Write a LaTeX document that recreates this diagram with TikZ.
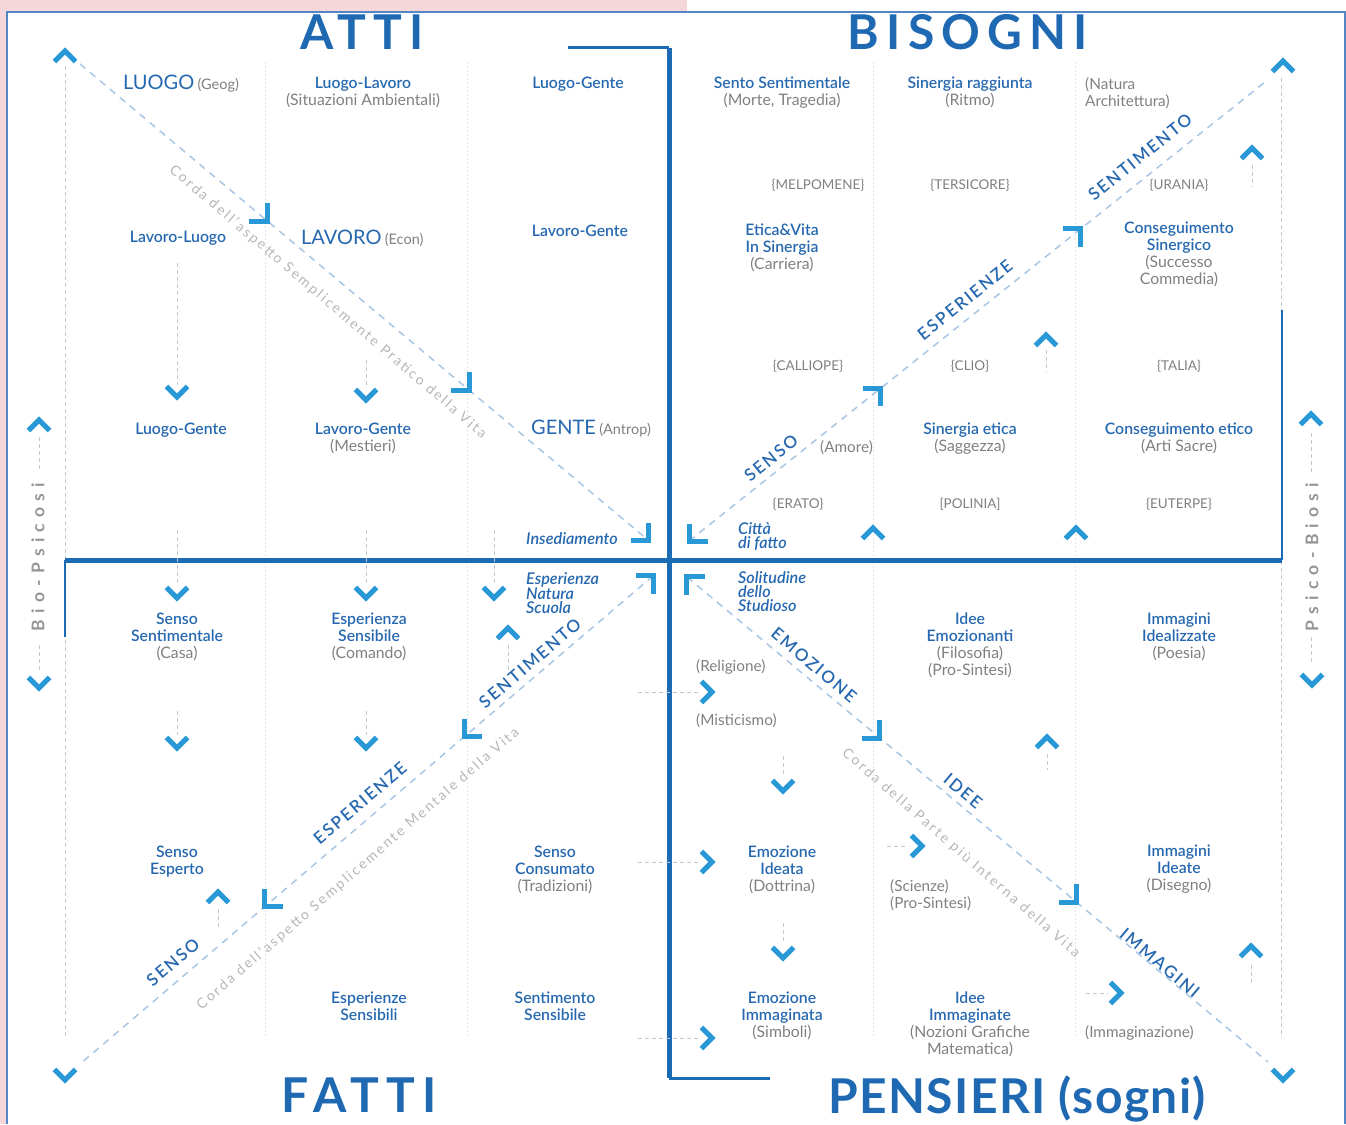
\documentclass[tikz,border=0pt]{standalone}
\usepackage{fontspec}
\setmainfont{Lato}
\newfontfamily\semifont{Lato Semibold}[ItalicFont={Lato Semibold Italic}]
\usetikzlibrary{calc}
\definecolor{titleblue}{RGB}{30,105,178}
\definecolor{lblblue}{RGB}{38,104,176}
\definecolor{chevblue}{RGB}{40,153,214}
\definecolor{crossblue}{RGB}{28,107,181}
\definecolor{subgray}{RGB}{128,128,128}
\definecolor{cordagray}{RGB}{182,182,182}
\definecolor{diagblue}{RGB}{168,198,228}
\definecolor{stubgray}{RGB}{190,200,212}
\definecolor{sepgray}{RGB}{228,228,228}
\definecolor{pinkbg}{RGB}{245,214,217}
\definecolor{frameblue}{RGB}{84,133,196}
\definecolor{sidegray}{RGB}{150,150,150}
\def\chev(#1)[#2:#3]{\draw[chevron] ($(#1)+(#2+135:#3)$) -- (#1) -- ($(#1)+(#2-135:#3)$);}
\newcommand\gr[1]{{\normalfont\color{subgray}#1}}

\begin{document}
\begin{tikzpicture}[x=1pt, y=-1pt,
	chevron/.style={draw=chevblue, line width=5pt, line join=miter, line cap=butt},
	crossline/.style={draw=crossblue, line width=5pt},
	thinline/.style={draw=crossblue, line width=2pt},
	diag/.style={draw=diagblue, line width=1.5pt, dash pattern=on 7pt off 6pt},
	stub/.style={draw=stubgray, line width=0.8pt, dash pattern=on 4pt off 3pt},
	colsep/.style={draw=sepgray, line width=0.8pt, dash pattern=on 2pt off 2pt},
	lbl/.style={anchor=north, align=center, inner sep=0pt, text=lblblue, font=\semifont\fontsize{15.8}{16.8}\selectfont},
	lblit/.style={anchor=north west, align=left, inner sep=0pt, text=lblblue, font=\semifont\itshape\fontsize{16.2}{14.4}\selectfont},
	big/.style={anchor=base west, inner sep=0pt, text=lblblue, font=\fontsize{20}{20}\selectfont},
	muse/.style={anchor=base, inner sep=0pt, text=subgray, font=\fontsize{13.5}{14}\selectfont},
	gtxt/.style={anchor=north west, align=left, inner sep=0pt, text=subgray, font=\fontsize{15.3}{17.5}\selectfont},
	heading/.style={anchor=base, inner sep=0pt, text=titleblue, font=\fontsize{48}{48}\selectfont\bfseries\addfontfeatures{LetterSpace=#1}},
	dlbl/.style={inner sep=0pt, text=lblblue, font=\semifont\fontsize{17}{17}\selectfont\addfontfeatures{LetterSpace=12}},
	corda/.style={inner sep=0pt, text=cordagray, font=\fontsize{14}{14}\selectfont\addfontfeatures{LetterSpace=16}},
	side/.style={inner sep=0pt, rotate=90, text=sidegray, font=\fontsize{17.5}{17.5}\selectfont\bfseries\addfontfeatures{LetterSpace=36}}]
		%%%%% START %%%%%
		\useasboundingbox (0,0) rectangle (1346,1124);
		\fill[pinkbg] (0,0) rectangle (687,11);
		\fill[pinkbg] (0,0) rectangle (6,1124);
		\draw[frameblue, line width=1.5pt] (7,1124) -- (7,12) -- (1345,12) -- (1345,1124);
		
		\draw[colsep] (265,62) -- (265,1038);
		\draw[colsep] (467,62) -- (467,1038);
		\draw[colsep] (873,62) -- (873,1038);
		\draw[colsep] (1075,62) -- (1075,1038);
		\draw[stub] (65,66) -- (65,1038);
		\draw[stub] (1281,78) -- (1281,1038);
		
		\coordinate (tl0) at (80,64);
		\coordinate (tl1) at (648,540);
		\coordinate (tr0) at (689,541);
		\coordinate (tr1) at (1265,82);
		\coordinate (bl0) at (653,576);
		\coordinate (bl1) at (80,1064);
		\coordinate (br0) at (687,577);
		\coordinate (br1) at (1268,1062);
		\draw[diag] (tl0) -- (tl1);
		\draw[diag] (tr0) -- (tr1);
		\draw[diag] (bl0) -- (bl1);
		\draw[diag] (br0) -- (br1);
		
		\draw[crossblue, line width=3pt] (568,48) -- (669,48);
		\draw[crossblue, line width=3pt] (669,1078) -- (770,1078);
		\draw[crossline] (669,48) -- (669,1078);
		\draw[crossline] (65,560) -- (1282,560);
		\draw[thinline] (65,560) -- (65,637);
		\draw[thinline] (1282,560) -- (1282,310);
		
		\draw[stub] (177,263) -- (177,385);
		\draw[stub] (366,360) -- (366,388);
		\draw[stub] (177,530) -- (177,585);
		\draw[stub] (366,530) -- (366,585);
		\draw[stub] (494,530) -- (494,585);
		\draw[stub] (508,645) -- (508,672);
		\draw[stub] (177,711) -- (177,735);
		\draw[stub] (366,711) -- (366,735);
		\draw[stub] (218,909) -- (218,927);
		\draw[stub] (1252,165) -- (1252,187);
		\draw[stub] (1046,350) -- (1046,372);
		\draw[stub] (638,692) -- (700,692);
		\draw[stub] (638,862) -- (700,862);
		\draw[stub] (638,1038) -- (700,1038);
		\draw[stub] (887,846) -- (908,846);
		\draw[stub] (1086,993) -- (1108,993);
		\draw[stub] (783,756) -- (783,775);
		\draw[stub] (783,923) -- (783,942);
		\draw[stub] (1047,754) -- (1047,770);
		\draw[stub] (1251,965) -- (1251,983);
		\draw[stub] (39,437) -- (39,470);
		\draw[stub] (39,645) -- (39,672);
		\draw[stub] (1311,433) -- (1311,473);
		\draw[stub] (1311,637) -- (1311,665);
		
		\chev(648.5,540.5)[45:18]
		\chev(689.5,541.5)[135:18]
		\chev(653.5,575.5)[-45:18]
		\chev(686.5,576.5)[225:18]
		\chev($(tl0)!0.33!(tl1)$)[45:18]
		\chev($(tl0)!0.685!(tl1)$)[45:18]
		\chev($(tr0)!0.333!(tr1)$)[-45:18]
		\chev($(tr0)!0.68!(tr1)$)[-45:18]
		\chev($(bl0)!0.329!(bl1)$)[135:18]
		\chev($(bl0)!0.678!(bl1)$)[135:18]
		\chev($(br0)!0.332!(br1)$)[45:18]
		\chev($(br0)!0.671!(br1)$)[45:18]
		
		\chev(65,51)[270:15]
		\chev(1283,61)[270:15]
		\chev(65,1080)[90:15]
		\chev(1283,1080)[90:15]
		\chev(39,420)[270:15]
		\chev(39,688)[90:15]
		\chev(1311,414)[270:15]
		\chev(1312,685)[90:15]
		\chev(177,397)[90:15]
		\chev(366,400)[90:15]
		\chev(177,598)[90:15]
		\chev(366,598)[90:15]
		\chev(494,598)[90:15]
		\chev(508,628)[270:15]
		\chev(177,748)[90:15]
		\chev(366,748)[90:15]
		\chev(218,892)[270:15]
		\chev(1252,148)[270:15]
		\chev(1046,335)[270:15]
		\chev(873,528)[270:15]
		\chev(1076,528)[270:15]
		\chev(712,692)[0:15]
		\chev(712,862)[0:15]
		\chev(712,1038)[0:15]
		\chev(922,846)[0:15]
		\chev(1121,993)[0:15]
		\chev(783,791)[90:15]
		\chev(783,958)[90:15]
		\chev(1047,737)[270:15]
		\chev(1251,946)[270:15]
		
		\node[heading=15] (atti) at (362,50) {ATTI};
		\node[heading=15] (bisogni) at (968,49) {BISOGNI};
		\node[heading=15] (fatti) at (359,1112) {FATTI};
		\node[heading=3] (pensieri) at (1017,1113) {PENSIERI (sogni)};
		\node[side] (biopsicosi) at (38,557) {Bio-Psicosi};
		\node[side] (psicobiosi) at (1312,557) {Psico-Biosi};
		
		\node[big] (luogo) at (123,89) {LUOGO\,\gr{\fontsize{14.5}{14.5}\selectfont(Geog)}};
		\node[lbl] (luogolavoro) at (363,77) {Luogo-Lavoro\\\gr{(Situazioni Ambientali)}};
		\node[lbl] (luogogenteA) at (578,77) {Luogo-Gente};
		\node[lbl] (lavoroluogo) at (178,231) {Lavoro-Luogo};
		\node[big] (lavoro) at (301,244) {LAVORO\,\gr{\fontsize{14.5}{14.5}\selectfont(Econ)}};
		\node[lbl] (lavorogenteA) at (580,225) {Lavoro-Gente};
		\node[lbl] (luogogenteB) at (181,423) {Luogo-Gente};
		\node[lbl] (lavorogenteB) at (363,423) {Lavoro-Gente\\\gr{(Mestieri)}};
		\node[big] (gente) at (531,434) {GENTE\,\gr{\fontsize{14.5}{14.5}\selectfont(Antrop)}};
		\node[lblit] (insediamento) at (526,532) {Insediamento};
		
		\node[lblit] (espnatura) at (526,572) {Esperienza\\Natura\\Scuola};
		\node[lbl] (sensosent) at (177,613) {Senso\\Sentimentale\\\gr{(Casa)}};
		\node[lbl] (espsensibile) at (369,613) {Esperienza\\Sensibile\\\gr{(Comando)}};
		\node[lbl] (sensoesperto) at (177,846) {Senso\\Esperto};
		\node[lbl] (sensoconsumato) at (555,846) {Senso\\Consumato\\\gr{(Tradizioni)}};
		\node[lbl] (espsensibili) at (369,992) {Esperienze\\Sensibili};
		\node[lbl] (sentsensibile) at (555,992) {Sentimento\\Sensibile};
		
		\node[lbl] (sentosent) at (782,77) {Sento Sentimentale\\\gr{(Morte, Tragedia)}};
		\node[lbl] (sinergiarag) at (970,77) {Sinergia raggiunta\\\gr{(Ritmo)}};
		\node[gtxt] (natura) at (1085,77) {(Natura\\Architettura)};
		\node[muse] (melpomene) at (818,189) {\{MELPOMENE\}};
		\node[muse] (tersicore) at (970,189) {\{TERSICORE\}};
		\node[muse] (urania) at (1179,189) {\{URANIA\}};
		\node[lbl] (eticavita) at (782,224) {Etica\&Vita\\In Sinergia\\\gr{(Carriera)}};
		\node[lbl] (conssinergico) at (1179,222) {Conseguimento\\Sinergico\\\gr{(Successo}\\\gr{Commedia)}};
		\node[muse] (calliope) at (808,370) {\{CALLIOPE\}};
		\node[muse] (clio) at (970,370) {\{CLIO\}};
		\node[muse] (talia) at (1179,370) {\{TALIA\}};
		\node[gtxt] (amore) at (820,440) {(Amore)};
		\node[lbl] (sinergiaetica) at (970,423) {Sinergia etica\\\gr{(Saggezza)}};
		\node[lbl] (consetico) at (1179,423) {Conseguimento etico\\\gr{(Arti Sacre)}};
		\node[muse] (erato) at (798,508) {\{ERATO\}};
		\node[muse] (polinia) at (970,508) {[POLINIA]};
		\node[muse] (euterpe) at (1179,508) {\{EUTERPE\}};
		\node[lblit] (citta) at (738,522) {Città\\di fatto};
		
		\node[lblit] (solitudine) at (738,571) {Solitudine\\dello\\Studioso};
		\node[lbl] (ideeemoz) at (970,613) {Idee\\Emozionanti\\\gr{(Filosofia)}\\\gr{(Pro-Sintesi)}};
		\node[lbl] (immideal) at (1179,613) {Immagini\\Idealizzate\\\gr{(Poesia)}};
		\node[gtxt] (religione) at (696,659) {(Religione)};
		\node[gtxt] (misticismo) at (696,713) {(Misticismo)};
		\node[lbl] (emozideata) at (782,846) {Emozione\\Ideata\\\gr{(Dottrina)}};
		\node[gtxt] (scienze) at (890,879) {(Scienze)\\(Pro-Sintesi)};
		\node[lbl] (immideate) at (1179,845) {Immagini\\Ideate\\\gr{(Disegno)}};
		\node[lbl] (emozimm) at (782,992) {Emozione\\Immaginata\\\gr{(Simboli)}};
		\node[lbl] (ideeimm) at (970,992) {Idee\\Immaginate\\\gr{(Nozioni Grafiche}\\\gr{Matematica)}};
		\node[gtxt] (immaginazione) at (1085,1025) {(Immaginazione)};
		
		\node[dlbl, rotate=39] (sensoA) at (771,458) {SENSO};
		\node[dlbl, rotate=39] (esperienzeA) at (965,300) {ESPERIENZE};
		\node[dlbl, rotate=39] (sentimentoA) at (1140,157) {SENTIMENTO};
		\node[dlbl, rotate=40.5] (sentimentoB) at (530,663) {SENTIMENTO};
		\node[dlbl, rotate=40.5] (esperienzeB) at (360,803) {ESPERIENZE};
		\node[dlbl, rotate=40.5] (sensoB) at (173,962) {SENSO};
		\node[dlbl, rotate=-40] (emozione) at (814,665) {EMOZIONE};
		\node[dlbl, rotate=-40] (idee) at (963,791) {IDEE};
		\node[dlbl, rotate=-40] (immagini) at (1160,963) {IMMAGINI};
		\node[corda, rotate=-40.5] (cordapratico) at (328,302) {Corda dell'aspetto Semplicemente Pratico della Vita};
		\node[corda, rotate=41] (cordamentale) at (358,869) {Corda dell'aspetto Semplicemente Mentale della Vita};
		\node[corda, rotate=-41] (cordainterna) at (961,853) {Corda della Parte più Interna della Vita};
		%%%%% END %%%%%
\end{tikzpicture}
\end{document}
